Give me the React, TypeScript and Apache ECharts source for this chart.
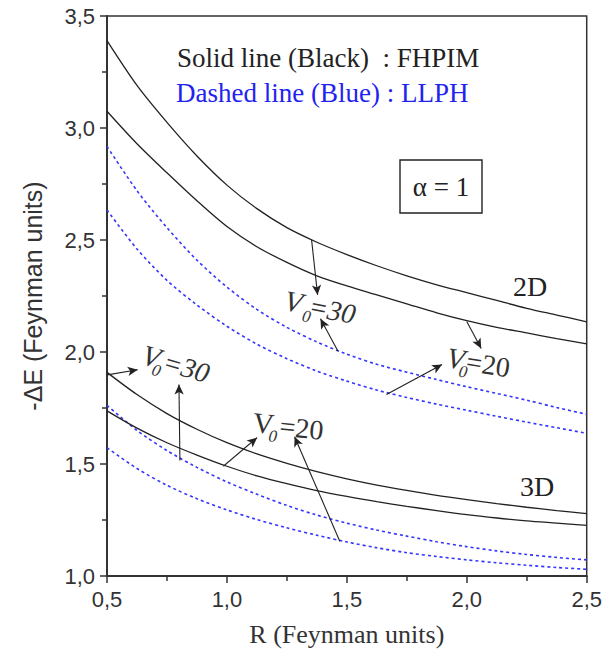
import React, { useEffect, useRef } from "react";
import * as echarts from "echarts";

// R (Feynman units) sample positions
const rValues = [
  0.5, 0.625, 0.75, 0.875, 1.0, 1.125, 1.25, 1.375, 1.5, 1.625, 1.75, 1.875, 2.0, 2.125, 2.25, 2.375, 2.5,
];

// 2D, FHPIM (solid black)
const fhpim2D_V30 = [
  3.39, 3.19, 3.025, 2.875, 2.745, 2.64, 2.555, 2.49, 2.435, 2.385, 2.34, 2.3, 2.265, 2.23, 2.195, 2.165, 2.135,
];
const fhpim2D_V20 = [
  3.075, 2.93, 2.8, 2.675, 2.56, 2.47, 2.4, 2.34, 2.295, 2.255, 2.215, 2.175, 2.14, 2.11, 2.085, 2.06, 2.036,
];
// 2D, LLPH (dashed blue)
const llph2D_V30 = [
  2.918, 2.72, 2.555, 2.41, 2.29, 2.19, 2.11, 2.045, 1.99, 1.945, 1.91, 1.877, 1.845, 1.815, 1.785, 1.752, 1.722,
];
const llph2D_V20 = [
  2.634, 2.46, 2.32, 2.21, 2.115, 2.035, 1.97, 1.915, 1.87, 1.83, 1.797, 1.767, 1.74, 1.713, 1.687, 1.662, 1.637,
];
// 3D, FHPIM (solid black)
const fhpim3D_V30 = [
  1.909, 1.81, 1.725, 1.655, 1.595, 1.545, 1.503, 1.466, 1.434, 1.406, 1.382, 1.36, 1.341, 1.323, 1.307, 1.292, 1.278,
];
const fhpim3D_V20 = [
  1.737, 1.66, 1.595, 1.54, 1.49, 1.447, 1.412, 1.381, 1.355, 1.332, 1.311, 1.292, 1.274, 1.259, 1.246, 1.236, 1.226,
];
// 3D, LLPH (dashed blue)
const llph3D_V30 = [
  1.762, 1.65, 1.56, 1.485, 1.42, 1.365, 1.315, 1.272, 1.236, 1.205, 1.178, 1.153, 1.131, 1.112, 1.096, 1.083, 1.072,
];
const llph3D_V20 = [
  1.573, 1.48, 1.405, 1.345, 1.295, 1.252, 1.215, 1.182, 1.152, 1.126, 1.104, 1.087, 1.072, 1.059, 1.048, 1.038, 1.03,
];

// annotation arrows: [x1, y1, x2, y2] (arrow head at second point)
const arrows2D = [
  [1.353, 2.5, 1.378, 2.255],
  [1.4625, 2.004, 1.39, 2.148],
  [2.0, 2.136, 2.06, 2.016],
  [1.665, 1.81, 1.897, 1.944],
];
const arrows3D = [
  [0.501, 1.898, 0.628, 1.921],
  [0.804, 1.516, 0.8, 1.855],
  [0.985, 1.49, 1.126, 1.618],
  [1.471, 1.154, 1.282, 1.622],
];

const xTicks = { min: 0.5, max: 2.5, interval: 0.5 };
const yTicks = { min: 1.0, max: 3.5, interval: 0.5 };

const BLACK = "#222222";
const BLUE = "#3535ff";
const SERIF = "Liberation Serif";
const SANS = "Liberation Sans";

function pairs(vals: number[]) {
  return rValues.map((r, i) => [r, vals[i]]);
}

function solid(name: string, vals: number[]) {
  return {
    type: "line",
    name,
    data: pairs(vals),
    smooth: 0.3,
    showSymbol: false,
    symbol: "none",
    silent: true,
    lineStyle: { color: BLACK, width: 1.3 },
  };
}

function dashed(name: string, vals: number[]) {
  return {
    type: "line",
    name,
    data: pairs(vals),
    smooth: 0.3,
    showSymbol: false,
    symbol: "none",
    silent: true,
    lineStyle: { color: BLUE, width: 1.6, type: [3, 3] },
  };
}

function vLabel(
  x: number,
  y: number,
  deg: number,
  num: string,
  italicNum: boolean,
  italicV: boolean,
  subX: number,
  eqX: number
) {
  const base = { fontFamily: SERIF, fill: "#333", verticalAlign: "middle", align: "left" };
  return {
    type: "group",
    x,
    y,
    rotation: (deg * Math.PI) / 180,
    children: [
      { type: "text", x: 0, y: 0, style: { ...base, text: "V", fontSize: 29, fontStyle: italicV ? "italic" : "normal" } },
      { type: "text", x: subX, y: 12, style: { ...base, text: "0", fontSize: 17, fontStyle: "italic" } },
      { type: "text", x: eqX, y: 1, style: { ...base, text: "=" + num, fontSize: 28, fontStyle: italicNum ? "italic" : "normal" } },
    ],
  };
}

export default function App() {
  const ref = useRef<HTMLDivElement>(null);
  useEffect(() => {
    if (!ref.current) return;
    const chart = echarts.init(ref.current, null, { renderer: "svg" });
    const arrowData = [...arrows2D, ...arrows3D].map((a) => [
      { coord: [a[0], a[1]] },
      { coord: [a[2], a[3]] },
    ]);
    const s1: any = solid("2D V0=30 FHPIM", fhpim2D_V30);
    s1.markLine = {
      silent: true,
      symbol: ["none", "arrow"],
      symbolSize: [7, 10],
      label: { show: false },
      lineStyle: { color: BLACK, width: 1.1, type: "solid" },
      emphasis: { disabled: true },
      data: arrowData,
    };
    const fmt = (v: number) => v.toFixed(1).replace(".", ",");
    chart.setOption({
      animation: false,
      backgroundColor: "#ffffff",
      grid: {
        left: 107,
        right: 18,
        top: 16,
        bottom: 81,
        show: true,
        borderColor: "#333",
        borderWidth: 1.5,
        backgroundColor: "transparent",
      },
      xAxis: {
        type: "value",
        min: xTicks.min,
        max: xTicks.max,
        interval: xTicks.interval,
        name: "R (Feynman units)",
        nameLocation: "middle",
        nameGap: 45,
        nameTextStyle: { fontFamily: SERIF, fontSize: 26, color: "#333" },
        axisLine: { show: true, lineStyle: { color: "#333", width: 2 } },
        axisTick: { show: true, inside: false, length: 7, lineStyle: { color: "#333", width: 1.5 } },
        minorTick: { show: true, splitNumber: 2, length: 5, lineStyle: { color: "#333", width: 1.5 } },
        splitLine: { show: false },
        axisLabel: { fontFamily: SANS, fontSize: 22, color: "#333", margin: 12, formatter: fmt },
      },
      yAxis: {
        type: "value",
        min: yTicks.min,
        max: yTicks.max,
        interval: yTicks.interval,
        name: "-ΔE (Feynman units)",
        nameLocation: "middle",
        nameGap: 62,
        nameTextStyle: { fontFamily: SANS, fontSize: 25, color: "#333" },
        axisLine: { show: true, lineStyle: { color: "#333", width: 2 } },
        axisTick: { show: true, inside: false, length: 7, lineStyle: { color: "#333", width: 1.5 } },
        minorTick: { show: true, splitNumber: 2, length: 5, lineStyle: { color: "#333", width: 1.5 } },
        splitLine: { show: false },
        axisLabel: { fontFamily: SANS, fontSize: 22, color: "#333", margin: 12, formatter: fmt },
      },
      series: [
        dashed("2D V0=30 LLPH", llph2D_V30),
        dashed("2D V0=20 LLPH", llph2D_V20),
        dashed("3D V0=30 LLPH", llph3D_V30),
        dashed("3D V0=20 LLPH", llph3D_V20),
        s1,
        solid("2D V0=20 FHPIM", fhpim2D_V20),
        solid("3D V0=30 FHPIM", fhpim3D_V30),
        solid("3D V0=20 FHPIM", fhpim3D_V20),
      ],
      graphic: [
        {
          type: "text",
          x: 177,
          y: 58,
          style: { text: "Solid line (Black)  : FHPIM", fontFamily: SERIF, fontSize: 27, fill: BLACK, verticalAlign: "middle" },
        },
        {
          type: "text",
          x: 176,
          y: 93,
          style: { text: "Dashed line (Blue) : LLPH", fontFamily: SERIF, fontSize: 27, fill: "#2323f0", verticalAlign: "middle" },
        },
        {
          type: "rect",
          shape: { x: 400, y: 160, width: 82, height: 53 },
          style: { fill: "#fff", stroke: BLACK, lineWidth: 1.4 },
        },
        {
          type: "text",
          x: 441,
          y: 187,
          style: { text: "α = 1", fontFamily: SERIF, fontSize: 27, fill: BLACK, align: "center", verticalAlign: "middle" },
        },
        {
          type: "text",
          x: 530,
          y: 286,
          style: { text: "2D", fontFamily: SERIF, fontSize: 28, fill: BLACK, align: "center", verticalAlign: "middle" },
        },
        {
          type: "text",
          x: 537,
          y: 486,
          style: { text: "3D", fontFamily: SERIF, fontSize: 28, fill: BLACK, align: "center", verticalAlign: "middle" },
        },
        vLabel(285, 300, -11, "30", true, true, 20, 25),
        vLabel(447, 357, -9, "20", false, true, 14, 20),
        vLabel(143, 354, -16, "30", true, true, 13, 22),
        vLabel(253, 422, -6, "20", false, false, 17, 27),
      ],
    });
    return () => chart.dispose();
  }, []);
  return (
    <div
      ref={ref}
      style={{ position: "fixed", left: 0, top: 0, width: 605, height: 657, background: "#fff" }}
    />
  );
}
